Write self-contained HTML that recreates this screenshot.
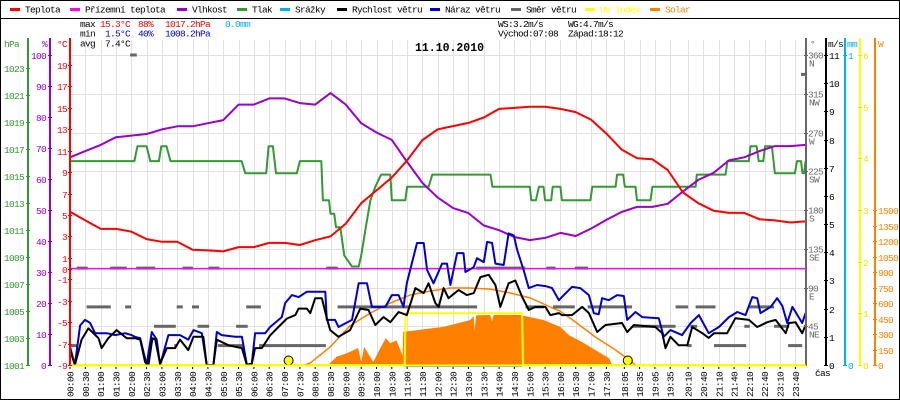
<!DOCTYPE html>
<html><head><meta charset="utf-8"><style>
html,body{margin:0;padding:0;background:#fff}
svg{display:block}
text{font-family:"Liberation Mono","DejaVu Sans Mono",monospace;font-size:9.5px;letter-spacing:-0.7px}
</style></head><body>
<svg id="chart" width="900" height="400" viewBox="0 0 900 400" xmlns="http://www.w3.org/2000/svg">
<rect x="0.5" y="0.5" width="899" height="399" fill="#fff" stroke="#000"/>
<line x1="0" y1="18.5" x2="900" y2="18.5" stroke="#000"/>
<g id="grid"></g>
<g id="series"></g>
<g id="axes"></g>
<g id="legend"></g>
<g>
<text x="80" y="27">max</text>
<text x="100" y="27" fill="#f00">15.3°C</text>
<text x="138" y="27" fill="#f00">88%</text>
<text x="165" y="27" fill="#f00">1017.2hPa</text>
<text x="225" y="27" fill="#00b0f0">0.0mm</text>
<text x="80" y="36.5">min</text>
<text x="105" y="36.5" fill="#0000cc">1.5°C</text>
<text x="138" y="36.5" fill="#0000cc">40%</text>
<text x="165" y="36.5" fill="#0000cc">1008.2hPa</text>
<text x="80" y="46.5">avg</text>
<text x="105" y="46.5">7.4°C</text>
<text x="498" y="27">WS:3.2m/s</text>
<text x="568" y="27">WG:4.7m/s</text>
<text x="498" y="36.5">Východ:07:08</text>
<text x="568" y="36.5">Západ:18:12</text>
<text x="415" y="51" style="font-size:11.5px;font-weight:bold;letter-spacing:0">11.10.2010</text>
</g>
</svg>
<script>
// ---- data ----
const xTickLabels = ["00:00","00:30","01:00","01:30","02:00","02:30","03:00","03:30","04:00","04:30","05:00","05:30","06:00","06:30","07:00","07:30","08:00","08:30","09:00","09:30","10:00","10:30","11:00","11:30","12:00","12:30","13:00","13:30","14:00","14:30","15:00","15:30","16:00","16:30","17:00","17:30","18:05","18:35","19:05","19:35","20:10","20:40","21:10","21:40","22:10","22:40","23:10","23:40"];
const tempTicks = [-9,-7,-5,-3,-1,0,1,3,5,7,9,11,13,15,17,19];
const humTicks = [0,10,20,30,40,50,60,70,80,90,100];
const pressTicks = [1001,1003,1005,1007,1009,1011,1013,1015,1017,1019,1021,1023];
const dirTicks = [45,90,135,180,225,270,315,360];
const dirNames = ["NE","E","SE","S","SW","W","NW","N"];
const windTicks = [0,1,2,3,4,5,6,7,8,9,10,11];
const rainTicks = [0,1];
const uvTicks = [0,1,2,3,4,5,6];
const solarTicks = [0,150,300,450,600,750,900,1050,1200,1350,1500];

const halfHours = [0,0.5,1,1.5,2,2.5,3,3.5,4,4.5,5,5.5,6,6.5,7,7.5,8,8.5,9,9.5,10,10.5,11,11.5,12,12.5,13,13.5,14,14.5,15,15.5,16,16.5,17,17.5,18,18.5,19,19.5,20,20.5,21,21.5,22,22.5,23,23.5,24];
const temperature = [5.3,4.5,3.7,3.7,3.45,2.75,2.5,2.5,1.75,1.7,1.6,2.0,2.0,2.4,2.4,2.2,2.65,3.0,4.2,6.1,7.3,8.5,10.1,12.0,13.0,13.3,13.6,14.1,14.9,15.0,15.1,15.1,14.9,14.6,13.9,12.6,11.1,10.3,10.2,9.2,7.1,6.1,5.4,5.2,5.2,4.6,4.5,4.3,4.4];
const humidity = [67,69,71,73.5,74,74.5,76,77,77,78,79,84,84,86,86,84.5,84,87.7,84,78,75,72.6,65.5,58.7,54,50.6,49,45,43.5,41.3,40.3,41,42.6,41.6,44,46.8,49.4,51,51,52,56,59.7,62,66,67,69,70.6,70.6,71];
const groundTimes = [0,24];
const groundTemp = [0,0];
const pressTimes = [0,2.1,2.2,2.5,2.62,2.9,2.98,3.15,3.28,5.6,5.72,6.4,6.48,6.62,6.72,7.4,7.5,8.2,8.25,8.45,8.5,8.62,8.68,8.82,8.95,9.2,9.42,9.5,9.65,9.8,9.96,10.15,10.45,10.5,10.94,11.0,11.7,11.82,13.72,13.78,15.0,15.05,15.2,15.3,15.45,15.5,15.7,15.75,16.0,16.05,16.98,17.04,17.8,17.85,18.05,18.1,18.45,18.5,18.94,19.0,20.41,20.45,21.39,21.45,22.15,22.2,22.4,22.47,22.62,22.68,22.9,23.0,23.65,23.72,23.85,23.9,23.95,24];
const pressure = [1016.1,1016.1,1017.2,1017.2,1016.1,1016.1,1017.2,1017.2,1016.1,1016.1,1015.2,1015.2,1017.2,1017.2,1015.2,1015.2,1016.1,1016.1,1013.2,1013.2,1012.2,1012.2,1011.2,1011.2,1009.1,1008.3,1008.3,1009.1,1011.2,1013.2,1014.2,1015.1,1015.1,1013.2,1013.2,1014.2,1014.2,1015.1,1015.1,1014.2,1014.2,1013.2,1013.2,1014.2,1014.2,1013.2,1013.2,1014.2,1014.2,1013.2,1013.2,1014.2,1014.2,1015.1,1015.1,1014.2,1014.2,1013.2,1013.2,1014.2,1014.2,1015.1,1015.1,1016.1,1016.1,1017.2,1017.2,1016.1,1016.1,1017.2,1017.2,1015.2,1015.2,1016.1,1016.1,1015.2,1015.2,1016.1];
const speedTimes = [0,0.16,0.38,0.6,0.93,1.03,1.25,1.52,1.85,2.12,2.29,2.45,2.56,2.69,2.78,2.94,3.16,3.43,3.59,3.86,4.03,4.35,4.46,4.68,4.79,5.17,5.61,5.77,5.93,6.04,6.26,6.53,6.8,7.08,7.35,7.46,7.73,7.84,8.0,8.22,8.38,8.49,8.76,9.14,9.47,9.74,9.96,10.23,10.45,10.72,10.99,11.27,11.54,11.7,11.92,12.03,12.19,12.35,12.68,12.95,13.17,13.39,13.66,13.88,14.04,14.31,14.53,14.75,14.97,15.18,15.51,15.67,15.95,16.05,16.38,16.71,16.93,17.2,17.47,18.01,18.18,18.4,19.1,19.32,19.43,19.59,19.86,20.14,20.3,20.63,20.84,21.01,21.44,21.71,22.15,22.42,22.75,23.02,23.35,23.46,23.67,23.89,24.0];
const windSpeed = [0.53,0,0.9,1.3,0.95,0.6,0.95,1.24,0.95,0.95,0.9,0.1,0,0.95,0.9,0.05,0.6,0.6,0.9,0.53,1.0,1.0,0,0,0.9,0.7,0.6,0,0.05,0.6,0.6,1.05,1.35,1.65,1.77,2.0,2.0,1.84,2.37,2.37,1.66,1.24,1.0,1.24,2.0,1.95,1.42,1.7,1.52,1.88,1.77,2.73,2.55,2.9,2.2,2.06,2.73,2.37,2.66,2.48,2.55,3.12,3.2,2.84,2.06,2.9,3.0,2.42,1.95,2.06,2.06,1.77,1.84,1.77,1.77,2.06,1.84,1.17,1.42,1.49,1.17,1.42,1.35,1.13,0.6,1.0,0.7,0.7,1.35,1.13,0.96,1.13,1.13,1.66,1.6,1.35,1.52,1.6,1.13,1.49,1.52,1.13,1.42];
const gustTimes = [0,0.16,0.33,0.49,0.65,0.82,1.2,1.47,1.8,2.01,2.12,2.29,2.5,2.67,2.83,2.94,3.21,3.59,3.86,4.03,4.3,4.46,4.68,4.79,4.95,5.39,5.61,5.77,5.93,6.04,6.37,6.53,6.91,7.02,7.24,7.46,7.73,8.33,8.38,8.65,8.76,9.2,9.42,9.69,9.85,10.29,10.5,10.72,10.88,10.99,11.32,11.54,11.65,11.86,12.14,12.3,12.41,12.63,12.84,12.9,13.17,13.28,13.5,13.61,13.77,13.88,14.15,14.31,14.48,14.59,14.8,14.97,15.24,15.51,15.73,15.95,16.11,16.38,16.65,16.93,17.09,17.25,17.36,17.58,17.85,18.07,18.18,18.45,18.67,19.21,19.37,19.59,19.97,20.25,20.52,20.84,21.17,21.5,21.77,22.04,22.26,22.42,22.53,22.86,23.07,23.24,23.4,23.57,23.89,24.0];
const windGust = [0.65,0,1.4,1.6,1.5,1.13,1.13,1.06,1.13,1.06,1.0,0.95,0,1.17,0.9,0,1.06,1.06,0.9,1.24,1.13,0,0,1.17,1.06,1.0,1.0,0,0.05,1.13,1.13,1.35,1.7,2.2,2.48,2.41,2.6,2.6,1.6,1.6,1.35,1.6,2.9,2.9,2.06,2.06,2.48,2.48,2.06,2.9,4.33,4.33,3.37,2.9,3.6,3.6,2.84,3.97,3.97,3.3,3.47,3.79,3.65,4.37,4.33,3.6,3.55,4.67,4.6,4.08,3.37,2.73,2.84,2.8,2.73,2.3,2.48,2.77,2.73,2.48,1.84,1.8,2.37,2.3,2.48,2.45,1.6,1.88,1.7,1.66,1.0,1.24,1.06,1.49,1.77,1.13,1.35,1.7,1.88,1.77,2.41,2.37,1.84,2.06,2.37,2.1,1.49,2.06,1.49,1.84];
const dirStart = [0.22,1.31,2.16,3.67,4.52,1.96,0.54,1.8,3.48,3.98,5.75,2.74,4.16,5.42,0,3.4,4.82,6.17,8.36,13.25,15.54,8.73,14.86,15.76,23.85,16.47,15.84,16.89,19.76,20.41,22.17,18.34,20.24,22.0,22.97,20.14,21.01,23.43];
const dirEnd = [0.58,1.85,2.78,4.01,4.88,2.18,1.33,1.99,3.68,4.21,6.23,3.45,4.54,5.8,0.25,3.5,5.64,8.35,8.74,14.86,15.84,13.28,15.46,16.0,24.0,16.9,16.47,18.34,20.17,21.06,22.97,19.76,20.46,22.18,23.46,20.28,22.06,23.89];
const dirDeg = [112.5,112.5,112.5,112.5,112.5,360,67.5,67.5,67.5,67.5,67.5,45,45,45,22.5,22.5,22.5,22.5,112.5,112.5,112.5,67.5,67.5,67.5,337.5,112.5,67.5,67.5,67.5,67.5,67.5,45,45,45,45,22.5,22.5,22.5];
const solarTimes = [7.95,8.45,8.7,9.0,9.3,9.4,9.5,9.6,9.75,9.9,10.1,10.3,10.45,10.65,10.85,10.87,11.4,12.2,13.05,13.17,13.2,13.25,13.71,13.77,13.82,14.69,15.46,16.0,16.27,16.71,17.14,17.58,17.69];
const solar = [0,10,80,110,150,165,30,175,100,30,150,260,210,240,90,320,340,370,435,470,330,480,484,420,484,484,435,368,290,222,145,68,0];
const clearTimes = [7.67,7.84,8.49,9.14,9.8,10.45,11.1,11.76,12.41,13.06,13.71,14.37,15.02,15.67,16.0,16.49,17.14,17.8,18.29,18.45];
const clearSky = [0,20,175,380,503,600,677,716,745,745,735,697,648,561,520,416,271,145,39,0];
const uvTimes = [0,10.92,10.95,14.75,14.78,24];
const uvIndex = [0,0,1,1,0,0];
const rainTimes = [10.92,14.75];
const rain = [0,0];
const sunTimes = [7+8/60, 18+12/60];

// ---- scales ----
const X = h => 70 + h*30.65;
const yT = t => 365 - (t+9)*10.714;
const yH = p => 365 - p*3.1;
const yP = v => 365 - (v-1001)*13.5;
const yW = v => 365 - v*28.18;
const yD = d => 365 - d*0.8611;
const yU = v => 365 - v*51.67;
const yS = v => 365 - v*0.10333;
const yR = v => 365 - v*310;
const NS = "http://www.w3.org/2000/svg";
function mk(parent, tag, attrs, txt){const e=document.createElementNS(NS,tag);for(const k in attrs)e.setAttribute(k,attrs[k]);if(txt!==undefined)e.textContent=txt;parent.appendChild(e);return e;}
const grid=document.getElementById('grid'), ser=document.getElementById('series'), axes=document.getElementById('axes'), leg=document.getElementById('legend');
const toH = s => {const p=s.split(':');return +p[0] + (+p[1])/60;};

// grid
xTickLabels.forEach(s=>{const x=Math.round(X(toH(s)))+0.5;
 const g=mk(grid,'line',{x1:x,y1:40,x2:x,y2:365,stroke:'#e4e0e0','stroke-width':1});
 
 });
dirTicks.forEach(d=>{const y=Math.round(yD(d))+0.5;
 const g=mk(grid,'line',{x1:70,y1:y,x2:806,y2:y,stroke:'#e4e0e0','stroke-width':1});
 
 });

function poly(times, vals, yf, color, w, name){
 const pts=times.map((t,i)=>X(t).toFixed(1)+','+yf(vals[i]).toFixed(1)).join(' ');
 const e=mk(ser,'polyline',{points:pts,fill:'none',stroke:color,'stroke-width':w,'stroke-linejoin':'round'});
 
 
 return e;}

// solar area
{const pts=[X(solarTimes[0]).toFixed(1)+',365'].concat(solarTimes.map((t,i)=>X(t).toFixed(1)+','+yS(solar[i]).toFixed(1))).concat([X(solarTimes[solarTimes.length-1]).toFixed(1)+',365']).join(' ');
 const e=mk(ser,'polygon',{points:pts,fill:'#ff8000',stroke:'none'});
 
 }
poly(uvTimes, uvIndex, yU, '#ffff00', 2, 'uv-index-line');
poly(rainTimes, rain, v=>yR(v)+1, '#00b0f0', 2, 'rain-line');
poly(clearTimes, clearSky, yS, '#ff8000', 1.5, 'solar-clear-sky-line');
// wind direction
dirDeg.forEach((d,i)=>{const y=yD(d);
 const e=mk(ser,'rect',{x:X(dirStart[i]).toFixed(1),y:(y-1.5).toFixed(1),width:(X(dirEnd[i])-X(dirStart[i])).toFixed(1),height:3,fill:'#666'});
 
 });
poly(groundTimes, groundTemp, yT, '#ff00ff', 1.5, 'ground-temperature-line');
poly(pressTimes, pressure, yP, '#339933', 2, 'pressure-line');
poly(halfHours, humidity, yH, '#9900cc', 2, 'humidity-line');
poly(halfHours, temperature, yT, '#ff0000', 2, 'temperature-line');
poly(gustTimes, windGust, yW, '#0000cc', 2, 'wind-gust-line');
poly(speedTimes, windSpeed, yW, '#000000', 2, 'wind-speed-line');
sunTimes.forEach((t,i)=>{const e=mk(ser,'circle',{cx:X(t).toFixed(1),cy:360.5,r:4.5,fill:'#ffff00',stroke:'#000','stroke-width':1});
 
 });

// axes
function vaxis(x, color, name){const e=mk(axes,'line',{x1:x,y1:38,x2:x,y2:366,stroke:color,'stroke-width':2});
 
 }
vaxis(28,'#339933','pressure-axis');
vaxis(50,'#9900cc','humidity-axis');
vaxis(70,'#ff0000','temperature-axis');
vaxis(806,'#666666','wind-direction-axis');
vaxis(826,'#000000','wind-speed-axis');
vaxis(845,'#00b0f0','rain-axis');
vaxis(860,'#ffff00','uv-axis');
vaxis(875,'#ff8000','solar-axis');
{const e=mk(axes,'line',{x1:70,y1:365.5,x2:806,y2:365.5,stroke:'#ffff00','stroke-width':2});
 
 }

function ticks(vals, yf, ax, color, side, labelX, anchor, name){
 vals.forEach(v=>{const y=Math.round(yf(v))+0.5;
  const t=mk(axes,'line',{x1:ax-2,y1:y,x2:ax+2,y2:y,stroke:color});
  
  
  const l=mk(axes,'text',{x:labelX,y:y+3.5,fill:color,'text-anchor':anchor},String(v));
  
  });}
ticks(pressTicks,yP,28,'#339933',0,24,'end','pressure');
ticks(humTicks,yH,50,'#9900cc',0,46,'end','humidity');
ticks(tempTicks,yT,70,'#ff0000',0,67,'end','temperature');
ticks(windTicks,yW,826,'#000000',0,829,'start','wind-speed');
ticks(rainTicks,yR,845,'#00b0f0',0,848,'start','rain');
ticks(uvTicks,yU,860,'#e8e800',0,863,'start','uv');
ticks(solarTicks,yS,875,'#ff8000',0,878,'start','solar');
dirTicks.forEach((d,i)=>{const y=Math.round(yD(d))+0.5;
 const t=mk(axes,'line',{x1:804,y1:y,x2:808,y2:y,stroke:'#666'});
 
 
 const l=mk(axes,'text',{x:808,y:y+3,fill:'#666'},String(d));
 
 
 const n=mk(axes,'text',{x:809,y:y+11,fill:'#666'},dirNames[i]);
 
 });
[['hPa',4,'#339933','pressure-unit'],['%',42,'#9900cc','humidity-unit'],['°C',57,'#ff0000','temperature-unit'],['°',810,'#666','direction-unit'],['m/s',828,'#000','wind-unit'],['mm',847,'#00b0f0','rain-unit'],['W',878,'#ff8000','solar-unit']].forEach(u=>{
 const e=mk(axes,'text',{x:u[1],y:47,fill:u[2]},u[0]);
 
 });
xTickLabels.forEach(s=>{const x=X(toH(s));
 const t=mk(axes,'rect',{x:(x-0.5).toFixed(1),y:367,width:1,height:2,fill:'#000'});
 
 
 const l=mk(axes,'text',{transform:'translate('+(x+3.5).toFixed(1)+',397) rotate(-90)'},s);
 
 });
{const e=mk(axes,'text',{x:815,y:376},'čas');
 
 }

// legend
const legItems=[['Teplota','#ff0000',10],['Přízemní teplota','#ff00ff',70],['Vlhkost','#9900cc',177],['Tlak','#339933',237],['Srážky','#00b0f0',280],['Rychlost větru','#000000',337],['Náraz větru','#0000cc',430],['Směr větru','#666666',511],['UV index','#ffff00',585],['Solar','#ff8000',650]];
legItems.forEach(it=>{
 const d=mk(leg,'rect',{x:it[2],y:8,width:10,height:3,fill:it[1]});
 
 
 const t=mk(leg,'text',{x:it[2]+15,y:12.5,fill:(it[0]==='UV index'||it[0]==='Solar')?it[1]:'#000'},it[0]);
 
 });
</script>
</body></html>
